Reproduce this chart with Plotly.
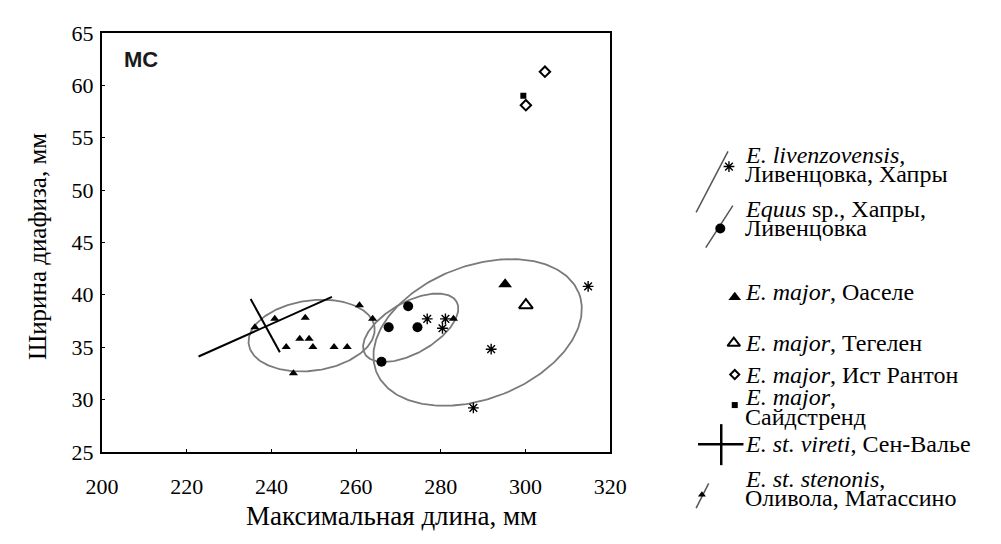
import numpy as np
import plotly.graph_objects as go

# ---------------- data ----------------
x_ticks = [200, 220, 240, 260, 280, 300, 320]
y_ticks = [25, 30, 35, 40, 45, 50, 55, 60, 65]

sten_x = [236.1, 240.8, 248.0, 246.7, 248.9, 243.5, 249.8, 254.8, 257.9, 245.2, 260.8, 263.9, 283.0]
sten_y = [36.9, 37.7, 37.8, 35.8, 35.8, 35.0, 35.0, 35.0, 35.0, 32.5, 39.0, 37.7, 37.7]

equus_x = [272.3, 267.7, 274.5, 266.0]
equus_y = [38.9, 36.9, 36.9, 33.6]

liv_x = [276.8, 281.1, 280.4, 291.9, 314.8, 287.7]
liv_y = [37.7, 37.7, 36.8, 34.8, 40.8, 29.2]

oasele_x = [295.2]
oasele_y = [41.0]
tegelen_x = [300.1]
tegelen_y = [39.0]
runton_x = [304.6, 300.1]
runton_y = [61.3, 58.1]
sidestrand_x = [299.5]
sidestrand_y = [59.0]

# E. st. vireti: two segments
vireti_long_x = [222.8, 254.3]
vireti_long_y = [34.1, 39.8]
vireti_short_x = [235.1, 242.0]
vireti_short_y = [39.6, 34.5]

# ellipses: centre x, centre y, semi-axis a, semi-axis b (x units), angle (deg)
ell_sten = (249.5, 36.1, 15.0, 8.4, 8.0)
ell_equus = (272.9, 36.85, 12.5, 6.1, 30.0)
ell_liv = (288.7, 36.4, 25.7, 15.9, 21.5)

# ---------------- layout geometry (pixels) ----------------
W, H = 1001, 544
L, R, T, B = 88, 614, 22, 461
XMIN, XMAX, YMIN, YMAX = 200, 320, 25, 65
ppx = (R - L) / (XMAX - XMIN)
ppy = (B - T) / (YMAX - YMIN)
asp = ppy / ppx


def ellipse(spec, n=240):
    cx, cy, a, b, ang = spec
    t = np.linspace(0, 2 * np.pi, n)
    th = np.deg2rad(ang)
    dx = a * np.cos(th) * np.cos(t) - b * np.sin(th) * np.sin(t)
    dy = (a * np.sin(th) * np.cos(t) + b * np.cos(th) * np.sin(t)) / asp
    return cx + dx, cy + dy


SERIF = "Liberation Serif, Times New Roman, Times, serif"
fig = go.Figure()

ell_color = "#7a7a7a"
for spec in (ell_sten, ell_equus, ell_liv):
    ex, ey = ellipse(spec)
    fig.add_trace(go.Scatter(x=ex, y=ey, mode="lines",
                             line=dict(color=ell_color, width=1.8), hoverinfo="skip"))

fig.add_trace(go.Scatter(x=vireti_long_x, y=vireti_long_y, mode="lines",
                         line=dict(color="black", width=2)))
fig.add_trace(go.Scatter(x=vireti_short_x, y=vireti_short_y, mode="lines",
                         line=dict(color="black", width=2)))

fig.add_trace(go.Scatter(x=sten_x, y=sten_y, mode="markers",
                         marker=dict(symbol="triangle-up", size=8, color="black")))
fig.add_trace(go.Scatter(x=equus_x, y=equus_y, mode="markers",
                         marker=dict(symbol="circle", size=10, color="black")))
fig.add_trace(go.Scatter(x=liv_x, y=liv_y, mode="markers",
                         marker=dict(symbol="asterisk-open", size=9, color="black",
                                     line=dict(color="black", width=1.4))))
fig.add_trace(go.Scatter(x=oasele_x, y=oasele_y, mode="markers",
                         marker=dict(symbol="triangle-up", size=12, color="black")))
fig.add_trace(go.Scatter(x=tegelen_x, y=tegelen_y, mode="markers",
                         marker=dict(symbol="triangle-up-open", size=12, color="black",
                                     line=dict(color="black", width=2))))
fig.add_trace(go.Scatter(x=runton_x, y=runton_y, mode="markers",
                         marker=dict(symbol="diamond-open", size=8, color="black",
                                     line=dict(color="black", width=2))))
fig.add_trace(go.Scatter(x=sidestrand_x, y=sidestrand_y, mode="markers",
                         marker=dict(symbol="square", size=6, color="black")))

# ---------------- legend (drawn on a full-figure pixel overlay) ----------------
def seg(x0, y0, x1, y1, color="black", width=1.5):
    fig.add_trace(go.Scatter(x=[x0, x1], y=[y0, y1], xaxis="x2", yaxis="y2",
                             mode="lines", line=dict(color=color, width=width)))

seg(703, 210, 736, 146, "#555", 1.5)        # livenzovensis
seg(713, 247, 741, 203, "#555", 1.5)        # Equus
seg(705, 453, 752, 453, "black", 2.5)       # vireti horizontal
seg(729, 432, 729, 475, "black", 2.5)       # vireti vertical
seg(703, 520, 716, 494, "#555", 1.5)        # stenonis

def leg_marker(x, y, symbol, size, lw=0):
    fig.add_trace(go.Scatter(x=[x], y=[y], xaxis="x2", yaxis="y2", mode="markers",
                             marker=dict(symbol=symbol, size=size, color="black",
                                         line=dict(color="black", width=lw))))

leg_marker(737, 162, "asterisk-open", 9, 1.4)
leg_marker(728, 227, "circle", 10)
leg_marker(743, 299, "triangle-up", 11)
leg_marker(742, 347, "triangle-up-open", 11, 2)
leg_marker(743, 380, "diamond-open", 7, 2)
leg_marker(743, 412, "square", 6)
leg_marker(709, 506, "triangle-up", 7)

ann = []
def text(x, y, s, size=24, anchor="left", family=SERIF, angle=0):
    ann.append(dict(x=x, y=y, xref="x2", yref="y2", text=s, textangle=angle,
                    showarrow=False, xanchor=anchor, yanchor="middle",
                    font=dict(family=family, size=size, color="black")))

TX = 752
text(TX, 150, "<i>E. livenzovensis,</i>")
text(TX, 170, "Ливенцовка, Хапры")
text(TX, 206, "<i>Equus</i> sp., Хапры,")
text(TX, 226, "Ливенцовка")
text(TX, 293, "<i>E. major</i>, Оаселе")
text(TX, 347, "<i>E. major</i>, Тегелен")
text(TX, 380, "<i>E. major</i>, Ист Рантон")
text(TX, 404, "<i>E. major</i>,")
text(TX, 424, "Сайдстренд")
text(752, 453, "<i>E. st. vireti</i>, Сен-Валье")
text(TX, 489, "<i>E. st. stenonis</i>,")
text(TX, 509, "Оливола, Матассино")

# axis titles and panel label
text(388, 528, "Максимальная длина, мм", size=27, anchor="center")
text(21, 246, "Ширина диафиза, мм", size=25, anchor="center", angle=-90)
ann.append(dict(x=109, y=50, xref="x2", yref="y2", text="<b>MC</b>",
                showarrow=False, xanchor="left", yanchor="middle",
                font=dict(family="Liberation Sans, Arial, sans-serif", size=22,
                          color="#1a1a1a")))

axis_common = dict(showline=True, mirror=True, linecolor="black", linewidth=2,
                   ticks="inside", ticklen=3, tickcolor="black", showgrid=False,
                   zeroline=False, tickfont=dict(family=SERIF, size=22, color="black"))

fig.update_layout(
    width=W, height=H, margin=dict(l=0, r=0, t=0, b=0),
    paper_bgcolor="white", plot_bgcolor="rgba(0,0,0,0)", showlegend=False,
    xaxis=dict(domain=[L / W, R / W], range=[XMIN, XMAX], tickvals=x_ticks,
               anchor="y", ticklabelstandoff=14, **axis_common),
    yaxis=dict(domain=[1 - B / H, 1 - T / H], range=[YMIN, YMAX], tickvals=y_ticks,
               anchor="x", ticklabelstandoff=2, **axis_common),
    xaxis2=dict(domain=[0, 1], range=[0, W], visible=False, anchor="y2",
                fixedrange=True),
    yaxis2=dict(domain=[0, 1], range=[H, 0], visible=False, anchor="x2",
                fixedrange=True),
    annotations=ann,
)

fig.write_html("out.html")
